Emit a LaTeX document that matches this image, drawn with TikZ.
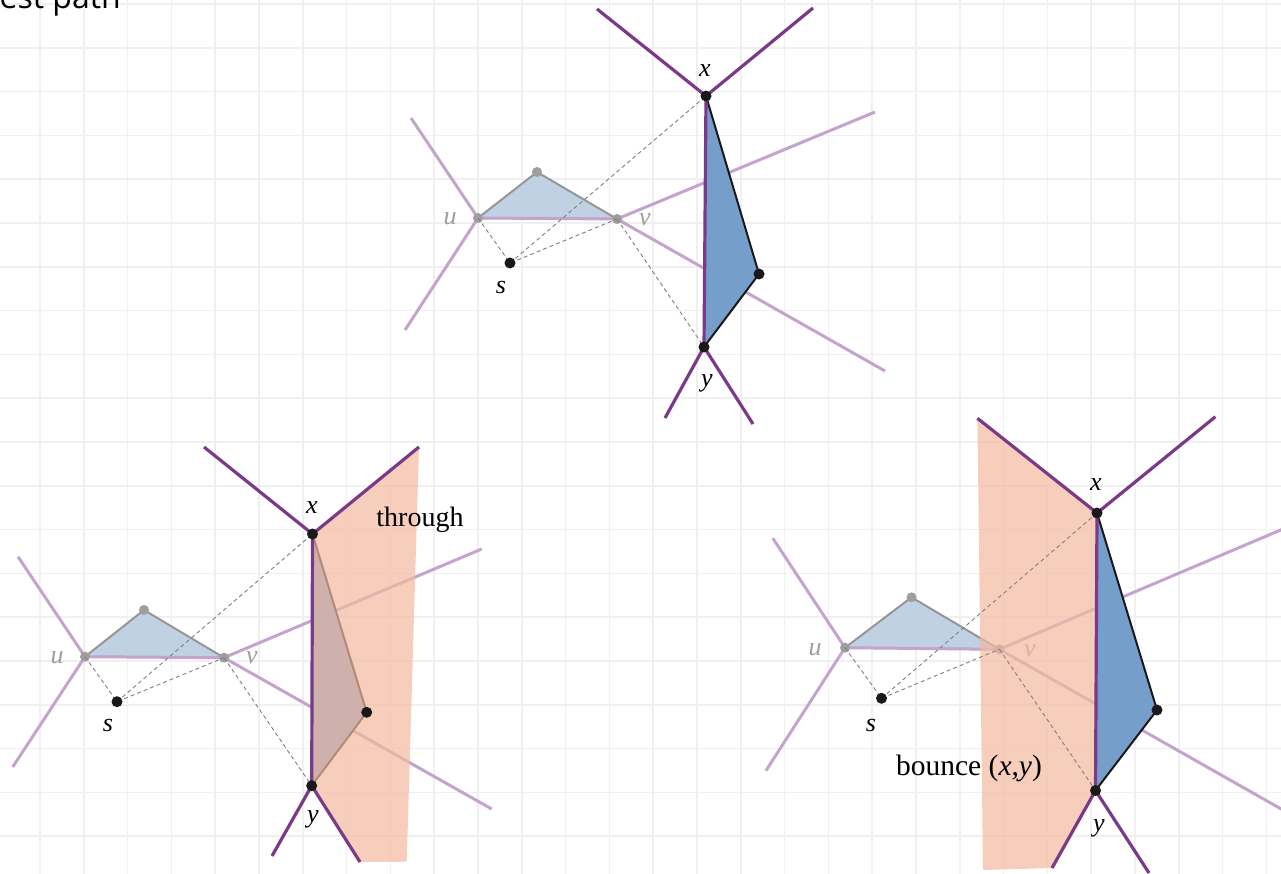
\documentclass[tikz,border=0pt]{standalone}
\usepackage{fontspec}
\setmainfont{Liberation Serif}
\newfontfamily\opensans{Open Sans}
\definecolor{dpurple}{RGB}{122,58,136}
\definecolor{lpurple}{RGB}{196,164,204}
\definecolor{trib}{RGB}{192,209,227}
\definecolor{polyb}{RGB}{117,159,202}
\definecolor{orng}{RGB}{244,186,160}
\definecolor{gridc}{RGB}{240,240,240}
\definecolor{dotgray}{RGB}{158,158,158}
\definecolor{trie}{RGB}{150,150,150}
\tikzset{
 gridline/.style={gridc, line width=1.6pt},
 darkedge/.style={dpurple, line width=3.2pt},
 lightedge/.style={lpurple, line width=3pt},
 trifill/.style={fill=trib, draw=trie, line width=2pt, line join=round},
 polyfill/.style={fill=polyb},
 polyedge/.style={black!90, line width=2pt, line join=round},
 orangezone/.style={fill=orng, fill opacity=0.7},
 guide/.style={gray, line width=0.9pt, dash pattern=on 4pt off 3pt},
 bdot/.style={circle, fill=black!90, inner sep=0pt, minimum size=11pt},
 gdot/.style={circle, fill=dotgray, inner sep=0pt, minimum size=10pt},
 lbl/.style={font=\fontsize{26}{30}\selectfont\itshape, inner sep=0pt},
 glbl/.style={lbl, text=dotgray},
 caption/.style={font=\fontsize{28}{34}\selectfont, inner sep=0pt},
}
\begin{document}
\begin{tikzpicture}[x=1pt,y=-1pt]
\fill[white] (0,0) rectangle (1281,874);
\useasboundingbox (0,0) rectangle (1281,874);
% grid
\foreach \k in {-1,...,29} { \draw[gridline] ({40+43.8*\k},0) -- ({40+43.8*\k},874); }
\foreach \k in {0,...,20} { \draw[gridline] (0,{4+43.8*\k}) -- (1281,{4+43.8*\k}); }
\node[font=\opensans\fontsize{32}{38}\selectfont, anchor=base east, inner sep=0pt] (title) at (121,8.5) {est path};

% ================= TOP PANEL =================
\coordinate (Tx) at (706,96);
\coordinate (Ty) at (704,347);
\coordinate (Tr) at (759,274);
\coordinate (Tu) at (478,218);
\coordinate (Tv) at (617,219);
\coordinate (Tt) at (537,172);
\coordinate (Ts) at (510,263);
\coordinate (Txa) at (597,9);
\coordinate (Txb) at (813,8);
\coordinate (Tya) at (665,418);
\coordinate (Tyb) at (753,424);
\coordinate (Tua) at (411,118);
\coordinate (Tub) at (405,330);
\coordinate (Tva) at (875,112);
\coordinate (Tvb) at (885,371);
\filldraw[trifill] (Tu) -- (Tt) -- (Tv) -- cycle;
\draw[lightedge] (Tua) -- (Tu) -- (Tub);
\draw[lightedge] (Tu) -- (Tv);
\draw[lightedge] (Tva) -- (Tv) -- (Tvb);
\node[gdot] (Tud) at (Tu) {};
\node[gdot] (Tvd) at (Tv) {};
\node[gdot] (Ttd) at (Tt) {};
\node[glbl] (Tul) at (450,219) {u};
\node[glbl] (Tvl) at (645,220) {v};
\draw[guide] (Tu) -- (Ts) -- (Tv);
\draw[guide] (Ts) -- (Tx);
\draw[guide] (Tv) -- (Ty);
\fill[polyfill] (Tx) -- (Tr) -- (Ty) -- cycle;
\draw[polyedge] (Tx) -- (Tr) -- (Ty);
\draw[darkedge] (Tx) -- (Ty);
\draw[darkedge] (Txa) -- (Tx) -- (Txb);
\draw[darkedge] (Tya) -- (Ty) -- (Tyb);
\node[bdot] (Txd) at (Tx) {};
\node[bdot] (Tyd) at (Ty) {};
\node[bdot] (Trd) at (Tr) {};
\node[bdot] (Tsd) at (Ts) {};
\node[lbl] (Txl) at (705,71) {x};
\node[lbl] (Tyl) at (707,383) {y};
\node[lbl] (Tsl) at (501,288) {s};

% ================= BOTTOM LEFT PANEL =================
\coordinate (Lx) at (312.5,534);
\coordinate (Ly) at (311.7,785.7);
\coordinate (Lr) at (366.7,712.3);
\coordinate (Lu) at (85,656.7);
\coordinate (Lv) at (224,657.7);
\coordinate (Lt) at (144,610);
\coordinate (Ls) at (117,701.7);
\coordinate (Lxa) at (204,447);
\coordinate (Lxb) at (419,447);
\coordinate (Lya) at (272,856);
\coordinate (Lyb) at (360,862);
\coordinate (Lua) at (18,556.7);
\coordinate (Lub) at (12.7,767);
\coordinate (Lva) at (481.7,549);
\coordinate (Lvb) at (491.7,809);
\coordinate (Lob) at (406.7,861.7);
\filldraw[trifill] (Lu) -- (Lt) -- (Lv) -- cycle;
\draw[lightedge] (Lua) -- (Lu) -- (Lub);
\draw[lightedge] (Lu) -- (Lv);
\draw[lightedge] (Lva) -- (Lv) -- (Lvb);
\node[gdot] (Lud) at (Lu) {};
\node[gdot] (Lvd) at (Lv) {};
\node[gdot] (Ltd) at (Lt) {};
\node[glbl] (Lul) at (57,658) {u};
\node[glbl] (Lvl) at (252,658) {v};
\fill[polyfill] (Lx) -- (Lr) -- (Ly) -- cycle;
\draw[polyedge] (Lx) -- (Lr) -- (Ly);
\fill[orangezone] (Lx) -- (Lxb) -- (Lob) -- (Lyb) -- (Ly) -- cycle;
\draw[guide] (Lu) -- (Ls) -- (Lv);
\draw[guide] (Ls) -- (Lx);
\draw[guide] (Lv) -- (Ly);
\draw[darkedge] (Lx) -- (Ly);
\draw[darkedge] (Lxa) -- (Lx) -- (Lxb);
\draw[darkedge] (Lya) -- (Ly) -- (Lyb);
\node[bdot] (Lxd) at (Lx) {};
\node[bdot] (Lyd) at (Ly) {};
\node[bdot] (Lrd) at (Lr) {};
\node[bdot] (Lsd) at (Ls) {};
\node[lbl] (Lxl) at (312,508) {x};
\node[lbl] (Lyl) at (313,819) {y};
\node[lbl] (Lsl) at (108,725) {s};
\node[caption, anchor=base] (through) at (420,526) {through};

% ================= BOTTOM RIGHT PANEL =================
\coordinate (Rx) at (1097,513);
\coordinate (Ry) at (1095.5,790.5);
\coordinate (Rr) at (1157,710);
\coordinate (Ru) at (845,647.7);
\coordinate (Rv) at (999.4,649.3);
\coordinate (Rt) at (911.5,597.3);
\coordinate (Rs) at (881.5,698.3);
\coordinate (Rxa) at (977.4,418.3);
\coordinate (Rxb) at (1215.4,416.7);
\coordinate (Rya) at (1052,868);
\coordinate (Ryb) at (1149,873);
\coordinate (Rua) at (772.8,538.3);
\coordinate (Rub) at (765.9,770.7);
\coordinate (Rva) at (1290,526);
\coordinate (Rvb) at (1290,814);
\coordinate (Rob) at (983,870);
\filldraw[trifill] (Ru) -- (Rt) -- (Rv) -- cycle;
\draw[lightedge] (Rua) -- (Ru) -- (Rub);
\draw[lightedge] (Ru) -- (Rv);
\draw[lightedge] (Rva) -- (Rv) -- (Rvb);
\node[gdot] (Rud) at (Ru) {};
\node[gdot] (Rvd) at (Rv) {};
\node[gdot] (Rtd) at (Rt) {};
\node[glbl] (Rul) at (815,650) {u};
\node[glbl] (Rvl) at (1030,651) {v};
\fill[polyfill] (Rx) -- (Rr) -- (Ry) -- cycle;
\draw[polyedge] (Rx) -- (Rr) -- (Ry);
\fill[orangezone] (Rxa) -- (Rx) -- (Ry) -- (Rya) -- (Rob) -- cycle;
\draw[guide] (Ru) -- (Rs) -- (Rv);
\draw[guide] (Rs) -- (Rx);
\draw[guide] (Rv) -- (Ry);
\draw[darkedge] (Rx) -- (Ry);
\draw[darkedge] (Rxa) -- (Rx) -- (Rxb);
\draw[darkedge] (Rya) -- (Ry) -- (Ryb);
\node[bdot] (Rxd) at (Rx) {};
\node[bdot] (Ryd) at (Ry) {};
\node[bdot] (Rrd) at (Rr) {};
\node[bdot] (Rsd) at (Rs) {};
\node[lbl] (Rxl) at (1096,485) {x};
\node[lbl] (Ryl) at (1099,828) {y};
\node[lbl] (Rsl) at (871,725) {s};
\node[caption, font=\fontsize{29.5}{34}\selectfont, anchor=base] (bounce) at (969,775) {bounce (\textit{x},\textit{y})};
\end{tikzpicture}
\end{document}
